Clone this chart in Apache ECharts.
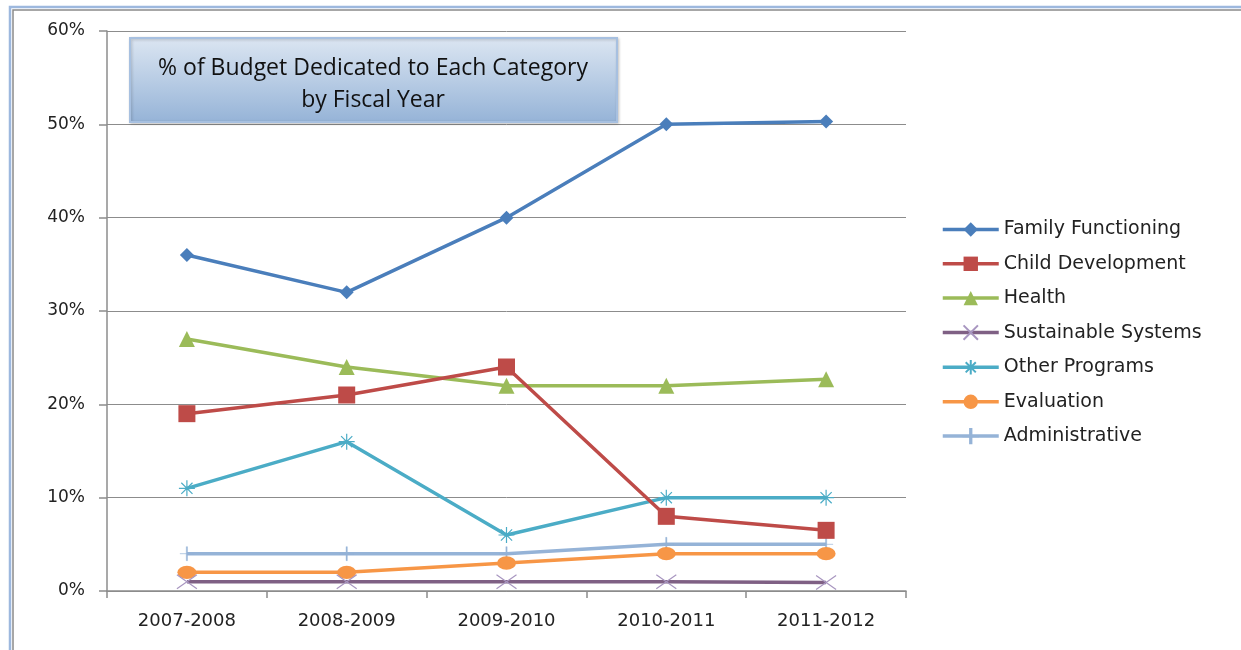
<!DOCTYPE html>
<html><head><meta charset="utf-8">
<script src="https://cdn.jsdelivr.net/npm/echarts@6/dist/echarts.min.js"></script>
<style>html,body{margin:0;padding:0;background:#fff}#c{width:1241px;height:650px}</style>
</head><body><div id="c"></div>
<script>
const categories = ['2007-2008','2008-2009','2009-2010','2010-2011','2011-2012'];
const familyFunctioning = [36, 32, 40, 50, 50.3];
const childDevelopment = [19, 21, 24, 8, 6.5];
const health = [27, 24, 22, 22, 22.7];
const sustainableSystems = [1, 1, 1, 1, 0.9];
const otherPrograms = [11, 16, 6, 10, 10];
const evaluation = [2, 2, 3, 4, 4];
const administrative = [4, 4, 4, 5, 5];
const yTicks = [0, 10, 20, 30, 40, 50, 60];
const titleLines = ['% of Budget Dedicated to Each Category', 'by Fiscal Year'];

const ADMIN_SYM = 'path://M0,4.98L10,4.98L10,5.02L0,5.02Z M4.55,0L5.45,0L5.45,10L4.55,10Z';
const chart = echarts.init(document.getElementById('c'));
function s(name, data, color, symbol, size, extra) {
  return Object.assign({
    name, type: 'line', data, symbol, symbolSize: size, symbolKeepAspect: true,
    lineStyle: { color, width: 3.5 },
    itemStyle: { color, borderColor: color, borderWidth: 0 },
    emphasis: { disabled: true }
  }, extra || {});
}
const series = [
  s('Administrative', administrative, '#95B3D7', ADMIN_SYM, 14, { itemStyle: { color: '#95B3D7', borderColor: '#95B3D7', borderWidth: 0.4 } }),
  s('Evaluation', evaluation, '#F79646', 'path://M0,7A10,7 0 1,0 20,7A10,7 0 1,0 0,7Z', 19),
  s('Other Programs', otherPrograms, '#4BACC6', 'path://M0,5L10,5M1.5,1.5L8.5,8.5M1.5,8.5L8.5,1.5M5,0L5,10', 16, { itemStyle: { color: 'none', borderColor: '#4BACC6', borderWidth: 1.2 } }),
  s('Sustainable Systems', sustainableSystems, '#7F6084', 'path://M0,0L10,7M0,7L10,0', 20, { itemStyle: { color: 'none', borderColor: '#A896C0', borderWidth: 1.2 } }),
  s('Health', health, '#9BBB59', 'triangle', 16),
  s('Child Development', childDevelopment, '#BE4B48', 'rect', 17),
  s('Family Functioning', familyFunctioning, '#4A7EBB', 'diamond', 14)
];
chart.setOption({
  animation: false,
  grid: { left: 107, right: 335, top: 31, bottom: 59, containLabel: false },
  legend: {
    orient: 'vertical', left: 941, top: 220, padding: 0,
    data: ['Family Functioning','Child Development','Health','Sustainable Systems','Other Programs','Evaluation','Administrative'],
    itemWidth: 56, itemHeight: 18, itemGap: 15.3,
    lineStyle: { width: 3.5 },
    textStyle: { fontFamily: 'DejaVu Sans', fontSize: 19, color: '#222' },
    selectedMode: false
  },
  xAxis: {
    type: 'category', data: categories, boundaryGap: true,
    axisLine: { lineStyle: { color: '#8c8c8c', width: 1.5 } },
    axisTick: { show: true, alignWithLabel: false, length: 7, lineStyle: { color: '#8c8c8c', width: 1.5 } },
    axisLabel: { fontFamily: 'DejaVu Sans', fontSize: 18, color: '#222', margin: 21 }
  },
  yAxis: {
    type: 'value', min: 0, max: 60, interval: 10,
    axisLine: { show: true, lineStyle: { color: '#8c8c8c', width: 1.5 } },
    axisTick: { show: true, length: 8, inside: false, lineStyle: { color: '#8c8c8c', width: 1.5 } },
    splitLine: { lineStyle: { color: '#8c8c8c', width: 1 } },
    axisLabel: { fontFamily: 'DejaVu Sans', fontSize: 17, color: '#222', margin: 22,
      formatter: v => yTicks.includes(v) ? v + '%' : '' }
  },
  graphic: [
    { type: 'rect', shape: { x: 10, y: 7, width: 1240, height: 660 }, style: { fill: 'none', stroke: '#9DB8DE', lineWidth: 2.5 }, silent: true },
    { type: 'rect', shape: { x: 13, y: 10, width: 1240, height: 660 }, style: { fill: 'none', stroke: '#8a8a8a', lineWidth: 1.5 }, silent: true },
    { type: 'rect', shape: { x: 130, y: 38, width: 487, height: 84 }, z: 100,
      style: { fill: new echarts.graphic.LinearGradient(0, 0, 0, 1, [
        { offset: 0, color: '#DCE6F2' }, { offset: 1, color: '#95B3D7' }]),
        stroke: '#A7C0E0', lineWidth: 2, shadowColor: 'rgba(0,0,0,0.2)', shadowBlur: 3, shadowOffsetX: 1, shadowOffsetY: 1 } },
    { type: 'text', x: 373, y: 84, z: 101,
      style: { text: titleLines.join('\n'), fill: '#111', font: '23px "Open Sans"', lineHeight: 32, align: 'center', verticalAlign: 'middle' } }
  ],
  series
});
</script></body></html>
